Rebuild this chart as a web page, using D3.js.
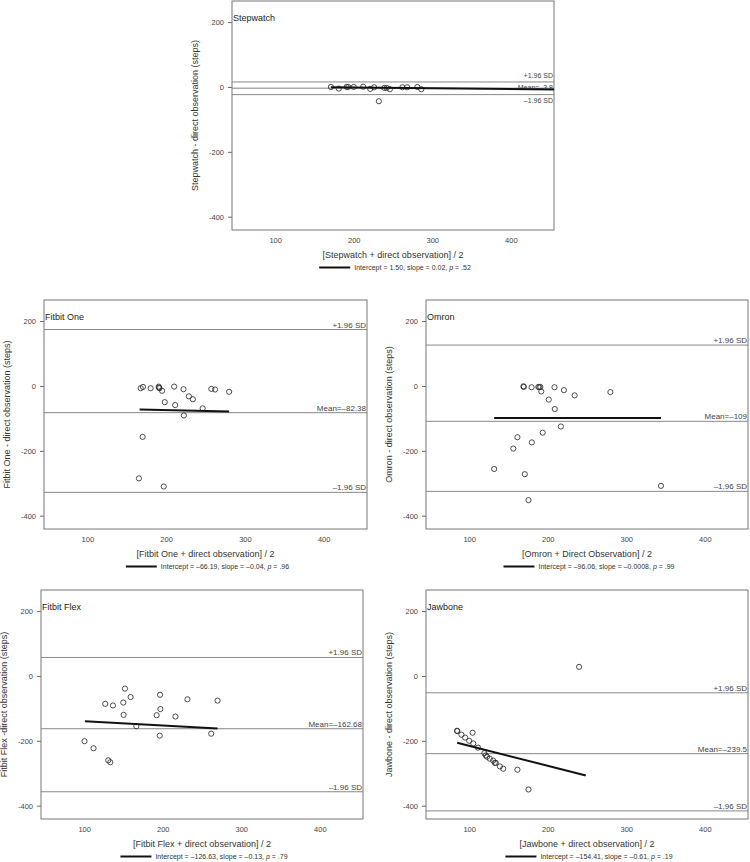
<!DOCTYPE html>
<html><head><meta charset="utf-8">
<script src="https://cdn.jsdelivr.net/npm/d3@7"></script>
<style>
body{margin:0;background:#fff}
svg{display:block}
text{font-family:"Liberation Sans",Arial,sans-serif;fill:#333}
</style>
</head><body>
<svg id="chart" width="750" height="862"></svg>
<script>
// ---------- data ----------
const xTicks = [100, 200, 300, 400];
const yTicks = [200, 0, -200, -400];
const xDomain = [45, 455];
const yDomain = [-441, 265];

const devices = ["Stepwatch", "Fitbit One", "Omron", "Fitbit Flex", "Jawbone"];
const yTitles = [
  "Stepwatch - direct observation (steps)",
  "Fitbit One - direct observation (steps)",
  "Omron - direct observation (steps)",
  "Fitbit Flex -direct observation (steps)",
  "Jawbone - direct observation (steps)"
];
const xTitles = [
  "[Stepwatch + direct observation] / 2",
  "[Fitbit One + direct observation] / 2",
  "[Omron + Direct Observation] / 2",
  "[Fitbit Flex + direct observation] / 2",
  "[Jawbone + direct observation] / 2"
];

const stepwatchAvg  = [171, 181, 191, 193, 200, 212, 221, 226, 232, 239, 242, 246, 262, 268, 281, 286];
const stepwatchDiff = [0, -5, 0, 0, 0, 1, -6, -1, -44, -3, -3, -7, -1, -1, 0, -7];

const fitbitOneAvg  = [167.7, 170.6, 180.4, 190.6, 191, 191.5, 194.9, 198.3, 210.2, 211.5, 222.1, 222.6, 228.9, 234, 246.4, 257.4, 262.1, 280, 170.2, 165.5, 197];
const fitbitOneDiff = [-7, -3, -7, -2, -5, -7, -15, -50, -2, -59, -10, -91, -32, -41, -69, -9, -11, -18, -157, -285, -310];

const omronAvg  = [169.1, 169.5, 179.4, 188, 189.3, 190.6, 191.8, 201.3, 208.6, 209, 220.6, 234.3, 279.8, 216.7, 193.6, 179.8, 161.4, 156.2, 131.8, 170.8, 175.5, 344.2];
const omronDiff = [-1, -3, -4, -3, -4, -3, -17, -42, -4, -71, -13, -29, -19, -125, -144, -174, -158, -193, -256, -272, -352, -308];

const fitbitFlexAvg  = [151.9, 159.1, 126.8, 136.6, 149.8, 150.2, 196.6, 197, 192.3, 216.2, 231.5, 269.8, 166.4, 196.2, 261.7, 100.4, 111.9, 130.6, 133.2];
const fitbitFlexDiff = [-39, -65, -86, -91, -82, -120, -58, -102, -121, -125, -72, -76, -155, -184, -178, -201, -223, -260, -266];

const jawboneAvg  = [239.9, 84.5, 84.9, 90.1, 94.8, 100, 104.3, 105.2, 111.2, 119.3, 121, 122.7, 126.2, 130.5, 132.6, 133.9, 139.1, 143.3, 161.4, 175.5];
const jawboneDiff = [28, -169, -170, -181, -190, -200, -175, -208, -221, -238, -245, -249, -255, -261, -268, -268, -279, -286, -289, -350];

const upperSD  = [15.4, 174, 126, 57, -52];
const meanDiff = [-3.8, -82.38, -109, -162.68, -239.5];
const lowerSD  = [-23.6, -328, -325, -357, -416];
const meanLabels = ["Mean=\u20133.8", "Mean=\u201382.38", "Mean=\u2013109", "Mean=\u2013162.68", "Mean=\u2013239.5"];

const fitStartX = [171, 166.4, 131.8, 100.9, 84.7];
const fitEndX   = [455, 280, 344.2, 269.8, 248.5];
const fitStartY = [-1, -72.8, -98.5, -139.5, -206];
const fitEndY   = [-8, -79, -98.5, -162, -306.7];

const intercepts = ["1.50", "\u201366.19", "\u201396.06", "\u2013126.63", "\u2013154.41"];
const slopes     = ["0.02", "\u20130.04", "\u20130.0008", "\u20130.13", "\u20130.61"];
const pValues    = [".52", ".96", ".99", ".79", ".19"];

const avgs  = [stepwatchAvg, fitbitOneAvg, omronAvg, fitbitFlexAvg, jawboneAvg];
const diffs = [stepwatchDiff, fitbitOneDiff, omronDiff, fitbitFlexDiff, jawboneDiff];

// ---------- layout ----------
const layout = [
  {left: 232, top: 1,   w: 322, h: 229},
  {left: 44,  top: 300, w: 323, h: 229},
  {left: 426, top: 300, w: 322, h: 229},
  {left: 41,  top: 590, w: 322, h: 229},
  {left: 426, top: 590, w: 322, h: 229}
];

const svg = d3.select("#chart");

devices.forEach((dev, i) => {
  const L = layout[i];
  const g = svg.append("g").attr("transform", `translate(${L.left},${L.top})`);
  const x = d3.scaleLinear().domain(xDomain).range([0, L.w]);
  const y = d3.scaleLinear().domain(yDomain).range([L.h, 0]);

  const clipId = "clip" + i;
  g.append("clipPath").attr("id", clipId).append("rect").attr("width", L.w).attr("height", L.h);

  // reference lines
  const refs = [upperSD[i], meanDiff[i], lowerSD[i]];
  const refLabels = ["+1.96 SD", meanLabels[i], "\u20131.96 SD"];
  const tight = (i === 0);
  g.selectAll(".ref").data(refs).enter().append("line")
    .attr("x1", 0).attr("x2", L.w)
    .attr("y1", d => y(d)).attr("y2", d => y(d))
    .attr("stroke", (d, k) => (tight && k === 1) ? "#aaa" : "#888")
    .attr("stroke-width", (d, k) => (tight && k === 1) ? 1.6 : 1);
  // label offsets relative to the line (tight stack for the Stepwatch panel)
  const offs = tight ? [-4, 1.5, 8] : [-2, -2, -2];
  g.selectAll(".refl").data(refs).enter().append("text")
    .attr("x", L.w - 1).attr("y", (d, k) => y(d) + offs[k])
    .attr("text-anchor", "end").attr("font-size", tight ? 7 : 8)
    .style("fill", "#444")
    .text((d, k) => refLabels[k]);

  // axes
  const yAxis = d3.axisLeft(y).tickValues(yTicks).tickSize(4).tickSizeOuter(0).tickFormat(d3.format("d"));
  const ya = g.append("g").call(yAxis);
  ya.select(".domain").remove();
  ya.selectAll("line").attr("stroke", "#666");
  ya.selectAll("text").attr("font-size", 7.5).attr("dx", -1).style("fill", "#444")
    .text(d => d < 0 ? "-" + Math.abs(d) : d);

  const xAxis = d3.axisBottom(x).tickValues(xTicks).tickSize(0).tickSizeOuter(0);
  const xa = g.append("g").attr("transform", `translate(0,${L.h})`).call(xAxis);
  xa.select(".domain").remove();
  xa.selectAll("text").attr("font-size", 7.5).attr("dy", "1.3em").style("fill", "#444");

  // frame
  g.append("rect").attr("width", L.w).attr("height", L.h)
    .attr("fill", "none").attr("stroke", "#777").attr("stroke-width", 1);

  // points
  const pts = avgs[i].map((a, k) => ({a, d: diffs[i][k]}));
  g.append("g").attr("clip-path", `url(#${clipId})`)
    .selectAll("circle").data(pts).enter().append("circle")
    .attr("cx", p => x(p.a)).attr("cy", p => y(p.d)).attr("r", 2.6)
    .attr("fill", "none").attr("stroke", "#222").attr("stroke-width", 0.8);

  // regression line
  g.append("line").attr("clip-path", `url(#${clipId})`)
    .attr("x1", x(fitStartX[i])).attr("x2", x(fitEndX[i]))
    .attr("y1", y(fitStartY[i])).attr("y2", y(fitEndY[i]))
    .attr("stroke", "#111").attr("stroke-width", 2);

  // panel title
  g.append("text").attr("x", 1).attr("y", y(200) - 1)
    .attr("font-size", 9).style("fill", "#222").text(dev);

  // y title
  g.append("text")
    .attr("transform", `translate(${-34},${L.h / 2}) rotate(-90)`)
    .attr("text-anchor", "middle").attr("font-size", 9).style("fill", "#333")
    .text(yTitles[i]);

  // x title
  g.append("text").attr("x", L.w / 2).attr("y", L.h + 28)
    .attr("text-anchor", "middle").attr("font-size", 9).style("fill", "#333")
    .text(xTitles[i]);

  // legend
  const lg = g.append("g");
  lg.append("line").attr("x1", 0).attr("x2", 31).attr("y1", 0).attr("y2", 0)
    .attr("stroke", "#111").attr("stroke-width", 2);
  const t = lg.append("text").attr("x", 35).attr("y", 2.4).attr("font-size", 7).style("fill", "#333");
  t.append("tspan").text(`Intercept = ${intercepts[i]}, slope = ${slopes[i]}, `);
  t.append("tspan").attr("font-style", "italic").text("p");
  t.append("tspan").text(` = ${pValues[i]}`);
  const tw = 35 + t.node().getComputedTextLength();
  lg.attr("transform", `translate(${L.w / 2 - tw / 2 + 2},${L.h + 37.5})`);
});
</script>
</body></html>
